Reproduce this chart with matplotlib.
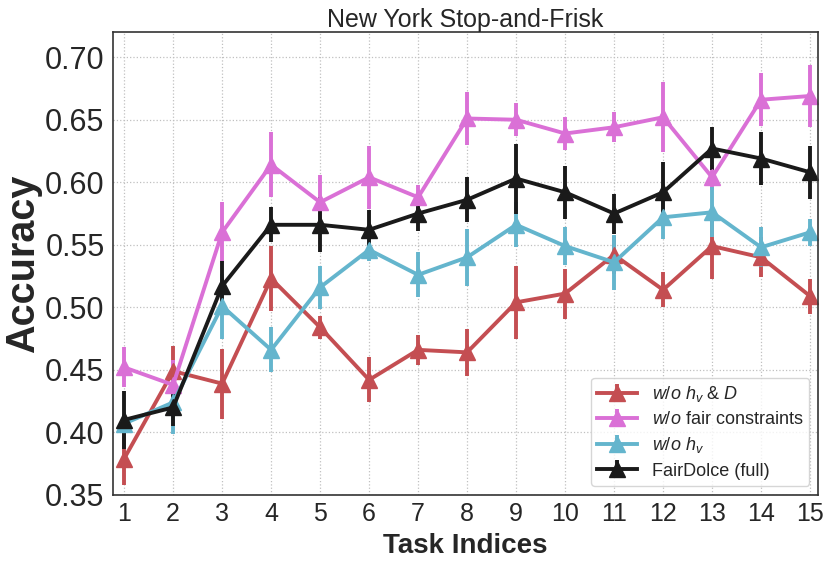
import numpy as np
import matplotlib
matplotlib.use("Agg")
import matplotlib.pyplot as plt

plt.rcParams["font.family"] = ["Liberation Sans", "DejaVu Sans"]
plt.rcParams["mathtext.fontset"] = "custom"
plt.rcParams["mathtext.rm"] = "Liberation Sans"
plt.rcParams["mathtext.it"] = "Liberation Sans:italic"
plt.rcParams["text.color"] = "#262626"
plt.rcParams["axes.labelcolor"] = "#262626"
plt.rcParams["xtick.color"] = "#262626"
plt.rcParams["ytick.color"] = "#262626"

tasks = np.arange(1, 16)

no_hv_d = [0.379, 0.449, 0.439, 0.523, 0.484, 0.442, 0.466, 0.464,
           0.504, 0.511, 0.542, 0.514, 0.549, 0.540, 0.509]
no_hv_d_err = [0.021, 0.020, 0.028, 0.026, 0.009, 0.018, 0.012, 0.019,
               0.029, 0.020, 0.015, 0.014, 0.026, 0.016, 0.014]

no_fair = [0.452, 0.438, 0.560, 0.614, 0.584, 0.604, 0.588, 0.651,
           0.650, 0.639, 0.644, 0.652, 0.604, 0.666, 0.669]
no_fair_err = [0.016, 0.020, 0.024, 0.026, 0.022, 0.025, 0.010, 0.021,
               0.013, 0.013, 0.012, 0.028, 0.010, 0.021, 0.025]

no_hv = [0.407, 0.424, 0.501, 0.466, 0.516, 0.546, 0.526, 0.540,
         0.566, 0.549, 0.536, 0.572, 0.576, 0.548, 0.560]
no_hv_err = [0.005, 0.025, 0.026, 0.018, 0.017, 0.009, 0.018, 0.023,
             0.018, 0.015, 0.022, 0.017, 0.020, 0.016, 0.011]

full = [0.410, 0.420, 0.517, 0.566, 0.566, 0.562, 0.575, 0.586,
        0.603, 0.592, 0.575, 0.592, 0.627, 0.619, 0.608]
full_err = [0.023, 0.015, 0.020, 0.014, 0.022, 0.016, 0.014, 0.018,
            0.028, 0.021, 0.016, 0.024, 0.017, 0.021, 0.021]

series = [
    (no_hv_d, no_hv_d_err, "#C44E52", r"$w/o\ h_v$ & $D$"),
    (no_fair, no_fair_err, "#DA70D6", r"$w/o$ fair constraints"),
    (no_hv, no_hv_err, "#64B5CD", r"$w/o\ h_v$"),
    (full, full_err, "#1A1A1A", "FairDolce (full)"),
]

fig = plt.figure(figsize=(8.3, 5.65), dpi=100)
ax = fig.add_axes([0.136, 0.124, 0.850, 0.819])

for vals, errs, color, label in series:
    ax.errorbar(tasks, vals, yerr=errs, color=color, label=label,
                marker="^", markersize=12, linewidth=2.8, elinewidth=2.8,
                capsize=0)

ax.set_xlim(0.77, 15.17)
ax.set_ylim(0.35, 0.72)
ax.set_xticks(tasks)
ax.set_yticks(np.arange(0.35, 0.701, 0.05))
ax.set_yticklabels([f"{v:.2f}" for v in np.arange(0.35, 0.701, 0.05)])
ax.tick_params(axis="x", labelsize=18, length=0, pad=5)
ax.tick_params(axis="y", labelsize=22, length=0, pad=6)
ax.grid(True, color="#c0c0c0", linestyle=":", linewidth=0.9)
ax.set_axisbelow(True)
for sp in ax.spines.values():
    sp.set_color("#333333")
    sp.set_linewidth(1.2)

ax.set_xlabel("Task Indices", fontsize=20, fontweight="bold", labelpad=5)
ax.set_ylabel("Accuracy", fontsize=28.5, fontweight="bold")
ax.yaxis.set_label_coords(-0.100, 0.50)
ax.set_title("New York Stop-and-Frisk", fontsize=18, pad=4)

leg = ax.legend(loc="lower right", fontsize=13, frameon=True,
                handlelength=2.2, borderpad=0.35, labelspacing=0.4)
leg.get_frame().set_edgecolor("#cccccc")

fig.savefig("out.png", dpi=100)
